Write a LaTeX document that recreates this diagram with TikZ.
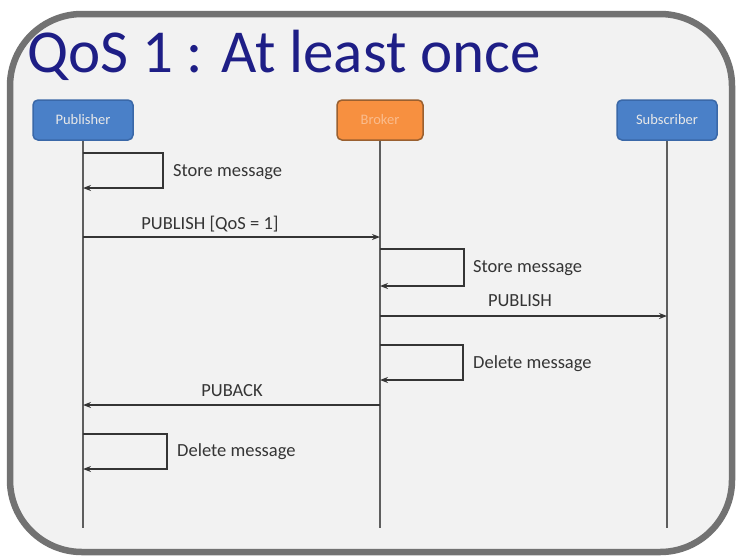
\documentclass[tikz,border=0pt]{standalone}
\usepackage{fontspec}
\setmainfont{Carlito}
\usetikzlibrary{arrows.meta}
\definecolor{titleblue}{HTML}{1E1E86}
\definecolor{pubblue}{HTML}{4A80C8}
\definecolor{pubborder}{HTML}{3A68A8}
\definecolor{brokerorange}{HTML}{F79040}
\definecolor{brokerborder}{HTML}{9A6030}
\definecolor{framegray}{HTML}{727272}
\definecolor{linegray}{HTML}{5E5E5E}
\definecolor{textgray}{HTML}{353535}
\definecolor{bggray}{HTML}{F2F2F2}
\begin{document}
\begin{tikzpicture}[x=1pt,y=-1pt,
  actor/.style={draw, line width=1.5pt, rounded corners=5pt, minimum height=40pt, inner sep=0pt, font=\fontsize{14.5}{16}\selectfont, text=white!82!gray},
  lifeline/.style={draw=linegray, line width=2.8pt},
  msg/.style={draw=textgray, line width=1.8pt, -{Stealth[length=8pt,width=6pt]}},
  lbl/.style={font=\fontsize{18.5}{20}\selectfont, text=textgray, inner sep=1pt}]
\useasboundingbox (0,0) rectangle (736,558);
\fill[white] (0,0) rectangle (736,558);
% frame
\draw[framegray, line width=6.5pt, fill=bggray, rounded corners=72pt] (10,14) rectangle (732,552);
% title
\node[anchor=base west, inner sep=0pt, text=titleblue, font=\fontsize{61}{70}\selectfont] (title) at (27,72) {QoS 1 : At least once};
% actors
\node[actor, fill=pubblue, draw=pubborder, minimum width=100pt] (pub) at (83,120) {Publisher};
\node[actor, fill=brokerorange, draw=brokerborder, minimum width=86pt, text=brokerorange!60!white] (brk) at (380,120) {Broker};
\node[actor, fill=pubblue, draw=pubborder, minimum width=100pt] (sub) at (667,120) {Subscriber};
% lifeline ends
\coordinate (pubend) at (83,528);
\coordinate (brkend) at (380,528);
\coordinate (subend) at (667,528);
\draw[lifeline] (pub.south) -- (pubend);
\draw[lifeline] (brk.south) -- (brkend);
\draw[lifeline] (sub.south) -- (subend);
% lifeline points
\coordinate (p1) at (83,153); \coordinate (p2) at (83,188);
\coordinate (p3) at (83,237); \coordinate (b3) at (380,237);
\coordinate (b4) at (380,249); \coordinate (b5) at (380,286);
\coordinate (b6) at (380,316); \coordinate (s6) at (667,316);
\coordinate (b7) at (380,345); \coordinate (b8) at (380,380);
\coordinate (b9) at (380,405); \coordinate (p9) at (83,405);
\coordinate (p10) at (83,434); \coordinate (p11) at (83,469);
% self loop publisher store
\draw[msg] (p1) -- (163,153) -- (163,188) -- (p2);
\node[lbl, anchor=west] (l1) at (172,172) {Store message};
% publish qos1
\draw[msg] (p3) -- (b3);
\node[lbl] (l2) at (210,224) {PUBLISH [QoS = 1]};
% broker store
\draw[msg] (b4) -- (464,249) -- (464,286) -- (b5);
\node[lbl, anchor=west] (l3) at (472,268) {Store message};
% publish
\draw[msg] (b6) -- (s6);
\node[lbl] (l4) at (520,301) {PUBLISH};
% broker delete
\draw[msg] (b7) -- (463,345) -- (463,380) -- (b8);
\node[lbl, anchor=west] (l5) at (472,364) {Delete message};
% puback
\draw[msg] (b9) -- (p9);
\node[lbl] (l6) at (232,391) {PUBACK};
% publisher delete
\draw[msg] (p10) -- (167,434) -- (167,469) -- (p11);
\node[lbl, anchor=west] (l7) at (176,452) {Delete message};
\end{tikzpicture}
\end{document}
